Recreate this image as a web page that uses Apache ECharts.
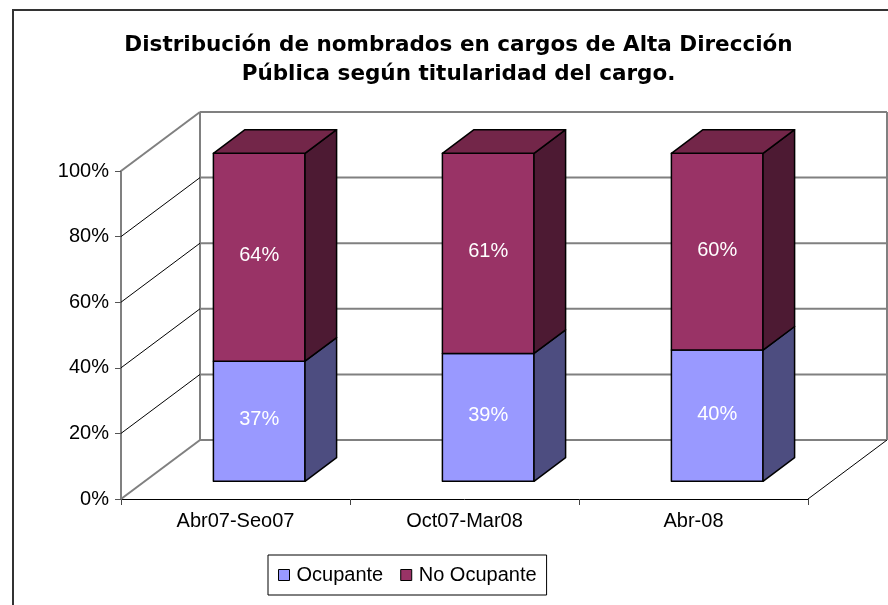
<!DOCTYPE html>
<html><head><meta charset="utf-8">
<script src="https://cdn.jsdelivr.net/npm/echarts@6/dist/echarts.min.js"></script>
<style>html,body{margin:0;padding:0;background:#fff}#c{width:888px;height:605px}</style>
</head><body><div id="c"></div>
<script>
// ---- data ----
const titleLines = ['Distribución de nombrados en cargos de Alta Dirección', 'Pública según titularidad del cargo.'];
const categories = ['Abr07-Seo07', 'Oct07-Mar08', 'Abr-08'];
const seriesNames = ['Ocupante', 'No Ocupante'];
const ocupante = [37, 39, 40];
const noOcupante = [64, 61, 60];
const yTicks = [0, 20, 40, 60, 80, 100];

// ---- style ----
const DEPTH = [79, -59];           // pixel offset of the back wall
const BAR_HALF = 0.2;              // half bar width as a fraction of the band
const BAR_D0 = 0.3, BAR_D1 = 0.7;  // bar depth range
const FONT = '"Liberation Sans", Arial, sans-serif';
const COLORS = {
  ocu: ['#9999FF', '#4D4D80', '#7373BF'],
  no: ['#993366', '#4D1A33', '#732649']
};

// 100% stacked shares
const totals = categories.map((c, i) => ocupante[i] + noOcupante[i]);
const ocuData = categories.map((c, i) => [i, 0, ocupante[i] / totals[i] * 100, ocupante[i]]);
const noData = categories.map((c, i) => [i, ocupante[i] / totals[i] * 100, 100, noOcupante[i]]);

function wallItem(params, api) {
  const cs = params.coordSys;
  const v = api.value(0);
  const y = api.coord([0, v])[1];
  const x0 = cs.x, x1 = cs.x + cs.width;
  const bx0 = x0 + DEPTH[0], by = y + DEPTH[1], bx1 = x1 + DEPTH[0];
  const edge = (v === yTicks[0] || v === yTicks[yTicks.length - 1]);
  const children = [
    {type: 'line', shape: {x1: x0, y1: y, x2: bx0, y2: by}, style: {stroke: edge ? '#808080' : '#000', lineWidth: edge ? 2 : 1}},
    {type: 'line', shape: {x1: bx0, y1: by, x2: bx1, y2: by}, style: {stroke: '#808080', lineWidth: 2}}
  ];
  if (v === yTicks[0]) {
    const yt = api.coord([0, yTicks[yTicks.length - 1]])[1] + DEPTH[1];
    children.push({type: 'line', shape: {x1: x1, y1: y, x2: bx1, y2: by}, style: {stroke: '#000', lineWidth: 1}});
    children.push({type: 'line', shape: {x1: bx0, y1: by, x2: bx0, y2: yt}, style: {stroke: '#808080', lineWidth: 2}});
    children.push({type: 'line', shape: {x1: bx1, y1: by, x2: bx1, y2: yt}, style: {stroke: '#808080', lineWidth: 2}});
  }
  return {type: 'group', children};
}

function barItem(colors, isTop) {
  return function (params, api) {
    const i = api.value(0);
    const p0 = api.coord([i, api.value(1)]);
    const p1 = api.coord([i, api.value(2)]);
    const band = api.size([1, 0])[0];
    const fx0 = p0[0] - BAR_HALF * band + BAR_D0 * DEPTH[0];
    const fx1 = p0[0] + BAR_HALF * band + BAR_D0 * DEPTH[0];
    const fyb = p0[1] + BAR_D0 * DEPTH[1];
    const fyt = p1[1] + BAR_D0 * DEPTH[1];
    const dd = BAR_D1 - BAR_D0;
    const ddx = dd * DEPTH[0], ddy = dd * DEPTH[1];
    const st = {stroke: '#000', lineWidth: 1.5, lineJoin: 'round'};
    const children = [
      {type: 'rect', shape: {x: fx0, y: fyt, width: fx1 - fx0, height: fyb - fyt}, style: Object.assign({fill: colors[0]}, st)},
      {type: 'polygon', shape: {points: [[fx1, fyb], [fx1, fyt], [fx1 + ddx, fyt + ddy], [fx1 + ddx, fyb + ddy]]}, style: Object.assign({fill: colors[1]}, st)}
    ];
    if (isTop) {
      children.push({type: 'polygon', shape: {points: [[fx0, fyt], [fx1, fyt], [fx1 + ddx, fyt + ddy], [fx0 + ddx, fyt + ddy]]}, style: Object.assign({fill: colors[2]}, st)});
    }
    children.push({type: 'text', style: {text: api.value(3) + '%', x: (fx0 + fx1) / 2, y: (fyt + fyb) / 2 - 1.5, align: 'center', verticalAlign: 'middle', fill: '#fff', font: '20px ' + FONT}});
    return {type: 'group', children};
  };
}

const chart = echarts.init(document.getElementById('c'), null, {renderer: 'canvas'});
chart.setOption({
  animation: false,
  backgroundColor: '#fff',
  graphic: [
    {type: 'rect', shape: {x: 13, y: 10, width: 1000, height: 1000}, style: {fill: 'none', stroke: '#333', lineWidth: 2}, silent: true},
    {type: 'text', style: {text: titleLines[0], x: 458.5, y: 45, align: 'center', verticalAlign: 'middle', fill: '#000', font: 'bold 21.5px "DejaVu Sans", sans-serif'}},
    {type: 'text', style: {text: titleLines[1], x: 458.5, y: 74.5, align: 'center', verticalAlign: 'middle', fill: '#000', font: 'bold 21.5px "DejaVu Sans", sans-serif'}}
  ],
  grid: {left: 121, right: 80, top: 171, bottom: 106, containLabel: false},
  legend: {
    left: 268, top: 555,
    orient: 'horizontal',
    padding: [10, 10, 10, 10],
    itemGap: 17,
    itemWidth: 11, itemHeight: 11,
    borderColor: '#000', borderWidth: 1,
    selectedMode: false,
    textStyle: {fontFamily: FONT, fontSize: 20, color: '#000', padding: [0, 0, 0, 2]},
    data: [
      {name: seriesNames[0], icon: 'rect', itemStyle: {color: COLORS.ocu[0], borderColor: '#000', borderWidth: 1}},
      {name: seriesNames[1], icon: 'rect', itemStyle: {color: COLORS.no[0], borderColor: '#000', borderWidth: 1}}
    ]
  },
  xAxis: {
    type: 'category', data: categories,
    axisLine: {show: true, lineStyle: {color: '#000', width: 1}},
    axisTick: {show: true, length: 6, lineStyle: {color: '#444'}},
    axisLabel: {fontFamily: FONT, fontSize: 20, color: '#000', margin: 12},
    splitLine: {show: false}
  },
  yAxis: {
    type: 'value', min: 0, max: 100, interval: 20,
    axisLine: {show: true, lineStyle: {color: '#808080', width: 2}},
    axisTick: {show: true, length: 6, lineStyle: {color: '#555'}},
    axisLabel: {formatter: '{value}%', fontFamily: FONT, fontSize: 20, color: '#000', margin: 12},
    splitLine: {show: false}
  },
  series: [
    {type: 'custom', name: '_walls', silent: true, clip: false, z: 1, renderItem: wallItem,
     encode: {y: 0}, data: yTicks.map(v => [v])},
    {type: 'custom', name: seriesNames[0], silent: true, clip: false, z: 3, renderItem: barItem(COLORS.ocu, false),
     itemStyle: {color: COLORS.ocu[0], borderColor: '#000', borderWidth: 1},
     encode: {x: 0, y: [1, 2]}, data: ocuData},
    {type: 'custom', name: seriesNames[1], silent: true, clip: false, z: 3, renderItem: barItem(COLORS.no, true),
     itemStyle: {color: COLORS.no[0], borderColor: '#000', borderWidth: 1},
     encode: {x: 0, y: [1, 2]}, data: noData}
  ]
});
</script>
</body></html>
